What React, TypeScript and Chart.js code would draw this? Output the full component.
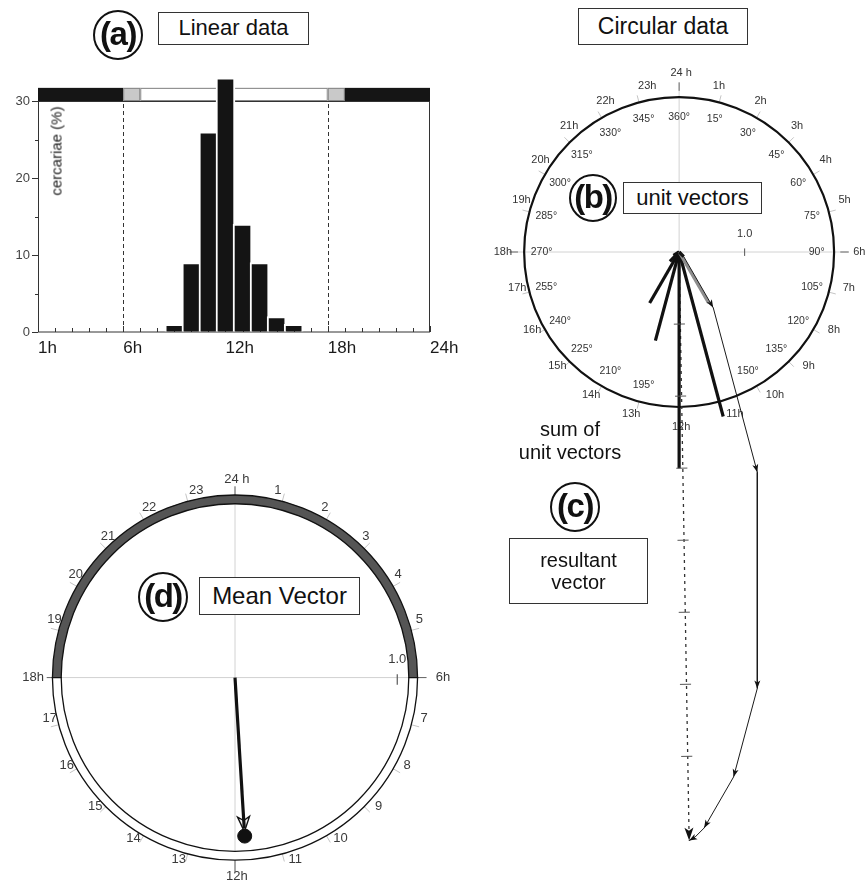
import React, { useEffect, useRef } from "react";
import { Chart, registerables } from "chart.js";

Chart.register(...registerables);

const FONT = "'Liberation Sans', Arial, Helvetica, sans-serif";

// ---------------- data ----------------
// (a) linear histogram: hour of day vs. cercariae emerged (%)
const hours = [9, 10, 11, 12, 13, 14, 15, 16];
const cercariaePct = [1, 9, 26, 33, 14, 9, 2, 1];
const xTickHours = [1, 6, 12, 18, 24];
const xTickLabels = ["1h", "6h", "12h", "18h", "24h"];
const yTickValues = [0, 5, 10, 15, 20, 25, 30];
const yTickLabels = ["0", "", "10", "", "20", "", "30"];
const dawnDuskHours = [6, 18];
// light/dark band on top of (a)
const bandStart = [1, 6, 7, 18, 19];
const bandEnd = [6, 7, 18, 19, 24];
const bandKind = ["dark", "twilight", "light", "twilight", "dark"];

// (b) clock labels
const hourLabelsB = ["24 h", "1h", "2h", "3h", "4h", "5h", "6h", "7h", "8h", "9h", "10h", "11h",
  "12h", "13h", "14h", "15h", "16h", "17h", "18h", "19h", "20h", "21h", "22h", "23h"];
const degreeLabelsB = ["360°", "15°", "30°", "45°", "60°", "75°", "90°", "105°", "120°", "135°", "150°", "",
  "", "195°", "210°", "225°", "240°", "255°", "270°", "285°", "300°", "315°", "330°", "345°"];
// (d) clock labels
const hourLabelsD = ["24 h", "1", "2", "3", "4", "5", "6h", "7", "8", "9", "10", "11",
  "12h", "13", "14", "15", "16", "17", "18h", "19", "20", "21", "22", "23"];
const darkFromHour = 18;
const darkToHour = 6;
// (d) mean vector
const meanAngleDeg = 176.5;
const meanLength = 0.98;
const meanArrowTip = 0.953;

// ---------------- helpers ----------------
function polar(r: number, clockDeg: number) {
  const t = (clockDeg * Math.PI) / 180;
  return { x: r * Math.sin(t), y: r * Math.cos(t) };
}

// clock labels sit slightly pulled towards the top of the dial
function labelAngle(i: number, pull: number) {
  const a = i * 15;
  if (i % 6 === 0) return a;
  return a - pull * Math.sign(Math.sin((a * Math.PI) / 180));
}

function drawArrow(ctx: CanvasRenderingContext2D, fx: number, fy: number, tx: number, ty: number,
  len: number, half: number, fill: string, stroke?: string) {
  const dx = tx - fx, dy = ty - fy;
  const d = Math.hypot(dx, dy) || 1;
  const ux = dx / d, uy = dy / d;
  const bx = tx - ux * len, by = ty - uy * len;
  ctx.beginPath();
  ctx.moveTo(tx, ty);
  ctx.lineTo(bx - uy * half, by + ux * half);
  ctx.lineTo(bx + ux * len * 0.25, by + uy * len * 0.25);
  ctx.lineTo(bx + uy * half, by - ux * half);
  ctx.closePath();
  ctx.fillStyle = fill;
  ctx.fill();
  if (stroke) {
    ctx.strokeStyle = stroke;
    ctx.lineWidth = 1.4;
    ctx.stroke();
  }
}

// ---------------- (a) ----------------
const linearPlugin = {
  id: "linearDeco",
  beforeDatasetsDraw(chart: any) {
    const { ctx, chartArea: ca } = chart;
    const xs = chart.scales.x, ys = chart.scales.y;
    ctx.save();
    // dashed dawn / dusk lines
    ctx.strokeStyle = "#333";
    ctx.lineWidth = 1;
    ctx.setLineDash([4, 3]);
    dawnDuskHours.forEach((h) => {
      const x = Math.round(xs.getPixelForValue(h)) + 0.5;
      ctx.beginPath();
      ctx.moveTo(x, ys.getPixelForValue(0));
      ctx.lineTo(x, ys.getPixelForValue(30));
      ctx.stroke();
    });
    ctx.setLineDash([]);
    // light/dark band
    const yT = ys.getPixelForValue(31.7), yB = ys.getPixelForValue(30);
    const colors: Record<string, string> = { dark: "#151515", twilight: "#c9c9c9", light: "#ffffff" };
    ctx.strokeStyle = "#777";
    ctx.strokeRect(ca.left + 0.5, yT + 0.5, ca.right - ca.left - 1, yB - yT);
    bandStart.forEach((s, i) => {
      const x0 = xs.getPixelForValue(s), x1 = xs.getPixelForValue(bandEnd[i]);
      ctx.fillStyle = colors[bandKind[i]];
      ctx.fillRect(x0, yT, x1 - x0, yB - yT);
      if (bandKind[i] !== "dark") {
        ctx.strokeStyle = "#888";
        ctx.strokeRect(x0 + 0.5, yT + 0.5, x1 - x0 - 1, yB - yT - 1);
      }
    });
    // frame
    ctx.strokeStyle = "#333";
    ctx.lineWidth = 1;
    ctx.strokeRect(ca.left + 0.5, ca.top + 0.5, ca.right - ca.left - 1, ca.bottom - ca.top - 0.5);
    // hour ticks on the x axis (pointing inwards)
    for (let h = 1; h <= 24; h++) {
      const x = Math.round(xs.getPixelForValue(h)) + 0.5;
      const big = xTickHours.includes(h);
      ctx.beginPath();
      ctx.moveTo(x, ca.bottom);
      ctx.lineTo(x, ca.bottom - (big ? 6 : 4));
      ctx.stroke();
    }
    // y ticks (outwards): long at labelled values, short otherwise
    yTickValues.forEach((v, i) => {
      const y = Math.round(ys.getPixelForValue(v)) + 0.5;
      ctx.beginPath();
      ctx.moveTo(ca.left, y);
      ctx.lineTo(ca.left - (yTickLabels[i] ? 6 : 3), y);
      ctx.stroke();
    });
    ctx.restore();
  },
};

function makeA(canvas: HTMLCanvasElement) {
  return new Chart(canvas, {
    type: "bar",
    data: {
      datasets: [
        {
          data: hours.map((h, i) => ({ x: h, y: cercariaePct[i] })),
          backgroundColor: "#141414",
          borderColor: "#ffffff",
          borderWidth: 2,
          borderSkipped: "start",
          barThickness: 19,
          clip: false as any,
        } as any,
      ],
    },
    options: {
      animation: false,
      responsive: false,
      events: [],
      layout: { padding: { top: 101, right: 40, left: 0, bottom: 0 } },
      plugins: { legend: { display: false }, tooltip: { enabled: false } },
      scales: {
        x: {
          type: "linear",
          min: 1,
          max: 24,
          offset: false,
          afterBuildTicks: (s: any) => {
            s.ticks = xTickHours.map((v) => ({ value: v }));
          },
          ticks: {
            callback: (v: any) => xTickLabels[xTickHours.indexOf(Number(v))] ?? "",
            align: "start",
            autoSkip: false,
            maxRotation: 0,
            padding: -2,
            color: "#1a1a1a",
            font: { family: FONT, size: 17 },
          },
          grid: { display: false, offset: false },
          border: { display: false },
          afterFit: (s: any) => {
            s.height = 48;
          },
        } as any,
        y: {
          type: "linear",
          min: 0,
          max: 30,
          afterBuildTicks: (s: any) => {
            s.ticks = yTickValues.map((v) => ({ value: v }));
          },
          ticks: {
            callback: (v: any) => yTickLabels[yTickValues.indexOf(Number(v))] ?? "",
            padding: 2,
            color: "#444",
            font: { family: FONT, size: 13 },
          },
          grid: { drawOnChartArea: false, tickLength: 6, color: "rgba(0,0,0,0)" },
          border: { display: false },
          afterFit: (s: any) => {
            s.width = 38;
          },
        } as any,
      },
    },
    plugins: [linearPlugin],
  });
}

// ---------------- (b) + (c) ----------------
const B_XMIN = -30.4, B_XMAX = 28.53, B_YMAX = 38.47, B_YMIN = -97.7;
const R_B = 23.66;

const vectorEnds = hours.map((h, i) => polar(cercariaePct[i], h * 15));
const chainPts = (() => {
  const pts = [{ x: 0, y: 0 }];
  let sx = 0, sy = 0;
  vectorEnds.forEach((v) => {
    sx += v.x;
    sy += v.y;
    pts.push({ x: sx, y: sy });
  });
  return pts;
})();
const resultantEnd = chainPts[chainPts.length - 1];

const circBPlugin = {
  id: "circB",
  beforeDatasetsDraw(chart: any) {
    const { ctx } = chart;
    const xs = chart.scales.x, ys = chart.scales.y;
    const P = (x: number, y: number): [number, number] => [xs.getPixelForValue(x), ys.getPixelForValue(y)];
    const k = xs.getPixelForValue(1) - xs.getPixelForValue(0);
    const [cx, cy] = P(0, 0);
    ctx.save();
    const seg = (a: [number, number], b: [number, number]) => {
      ctx.beginPath();
      ctx.moveTo(a[0], a[1]);
      ctx.lineTo(b[0], b[1]);
      ctx.stroke();
    };
    // cross axes
    ctx.lineWidth = 1;
    ctx.strokeStyle = "#d2d2d2";
    seg(P(-24.6, 0), P(24.6, 0));
    seg(P(0, 24.6), P(0, -24.6));
    ctx.strokeStyle = "#555";
    [0, 90, 180, 270].forEach((a) => {
      const p0 = polar(24.6, a), p1 = polar(25.9, a);
      seg(P(p0.x, p0.y), P(p1.x, p1.y));
    });
    // hour ticks
    ctx.strokeStyle = "#c4c4c4";
    for (let i = 0; i < 24; i++) {
      if (i % 6 === 0) continue;
      const p0 = polar(R_B, i * 15), p1 = polar(R_B + 1.1, i * 15);
      seg(P(p0.x, p0.y), P(p1.x, p1.y));
    }
    // 1.0 tick
    ctx.strokeStyle = "#555";
    seg(P(10, 0.55), P(10, -0.6));
    // circle
    ctx.beginPath();
    ctx.arc(cx, cy, R_B * k, 0, Math.PI * 2);
    ctx.lineWidth = 2.2;
    ctx.strokeStyle = "#111";
    ctx.stroke();
    // labels
    ctx.textAlign = "center";
    ctx.textBaseline = "middle";
    ctx.fillStyle = "#333";
    ctx.font = `11px ${FONT}`;
    hourLabelsB.forEach((t, i) => {
      let r = 25.9;
      if (i === 0) r = 27.3;
      if (i === 6 || i === 18) r = 27.2;
      if (i === 12) r = 26.7;
      const p = polar(r, labelAngle(i, 2.8));
      const [px, py] = P(p.x + (i % 6 === 0 ? 0.3 : 0.6), p.y);
      ctx.fillText(t, px, py);
    });
    ctx.font = `10.5px ${FONT}`;
    degreeLabelsB.forEach((t, i) => {
      if (!t) return;
      const p = polar(i === 0 ? 20.6 : 21.0, i * 15);
      const [px, py] = P(p.x, p.y);
      ctx.fillText(t, px, py);
    });
    ctx.font = `11px ${FONT}`;
    const [lx, ly] = P(10, 2.75);
    ctx.fillText("1.0", lx, ly);
    ctx.restore();
  },
  afterDatasetsDraw(chart: any) {
    const { ctx } = chart;
    const xs = chart.scales.x, ys = chart.scales.y;
    const P = (x: number, y: number): [number, number] => [xs.getPixelForValue(x), ys.getPixelForValue(y)];
    ctx.save();
    // arrows along the chain
    for (let i = 1; i < chainPts.length; i++) {
      const last = i === chainPts.length - 1;
      if (cercariaePct[i - 1] < 5 && !last) continue;
      const a = P(chainPts[i - 1].x, chainPts[i - 1].y), b = P(chainPts[i].x, chainPts[i].y);
      drawArrow(ctx, a[0], a[1], b[0], b[1], 8, 3, "#111");
    }
    // resultant ticks + arrow
    const L = Math.hypot(resultantEnd.x, resultantEnd.y);
    const ux = resultantEnd.x / L, uy = resultantEnd.y / L;
    ctx.strokeStyle = "#555";
    ctx.lineWidth = 1;
    for (let d = 11; d < L - 4; d += 11) {
      const c = { x: ux * d, y: uy * d };
      const a = P(c.x - uy * 0.7, c.y + ux * 0.7);
      const b = P(c.x + uy * 1.0, c.y - ux * 1.0);
      ctx.beginPath();
      ctx.moveTo(a[0], a[1]);
      ctx.lineTo(b[0], b[1]);
      ctx.stroke();
    }
    const o = P(0, 0), e = P(resultantEnd.x, resultantEnd.y);
    drawArrow(ctx, o[0], o[1], e[0], e[1], 13, 4.5, "#111");
    ctx.restore();
  },
};

function makeB(canvas: HTMLCanvasElement) {
  const vecDatasets = vectorEnds.map((v, i) => ({
    data: [{ x: 0, y: 0 }, v],
    showLine: true,
    borderColor: hours[i] === 10 ? "#8d8d8d" : "#111",
    borderWidth: 3.2,
    pointRadius: 0,
    order: 2,
  }));
  return new Chart(canvas, {
    type: "scatter",
    data: {
      datasets: [
        {
          data: chainPts,
          showLine: true,
          borderColor: "#1a1a1a",
          borderWidth: 1,
          pointRadius: 0,
          order: 1,
        },
        ...vecDatasets,
        {
          data: [{ x: 0, y: 0 }, resultantEnd],
          showLine: true,
          borderColor: "#333",
          borderWidth: 1.3,
          borderDash: [3, 4],
          pointRadius: 0,
          order: 3,
        },
      ] as any,
    },
    options: {
      animation: false,
      responsive: false,
      events: [],
      layout: { padding: 0 },
      plugins: { legend: { display: false }, tooltip: { enabled: false } },
      scales: {
        x: { type: "linear", display: false, min: B_XMIN, max: B_XMAX },
        y: { type: "linear", display: false, min: B_YMIN, max: B_YMAX },
      },
    },
    plugins: [circBPlugin],
  });
}

// ---------------- (d) ----------------
const D_XMIN = -235 / 168, D_XMAX = 235 / 168, D_YMAX = 238 / 168, D_YMIN = -214 / 168;
const RING_OUT = 1.125, RING_IN = 1.071;

const circDPlugin = {
  id: "circD",
  beforeDatasetsDraw(chart: any) {
    const { ctx } = chart;
    const xs = chart.scales.x, ys = chart.scales.y;
    const P = (x: number, y: number): [number, number] => [xs.getPixelForValue(x), ys.getPixelForValue(y)];
    const k = xs.getPixelForValue(1) - xs.getPixelForValue(0);
    const [cx, cy] = P(0, 0);
    ctx.save();
    const seg = (a: [number, number], b: [number, number]) => {
      ctx.beginPath();
      ctx.moveTo(a[0], a[1]);
      ctx.lineTo(b[0], b[1]);
      ctx.stroke();
    };
    // axes
    ctx.lineWidth = 1;
    ctx.strokeStyle = "#d2d2d2";
    seg(P(-1.16, 0), P(1.18, 0));
    seg(P(0, 1.18), P(0, -1.2));
    ctx.strokeStyle = "#666";
    seg(P(-1.16, 0), P(-RING_OUT, 0));
    seg(P(RING_OUT, 0), P(1.18, 0));
    seg(P(0, 1.18), P(0, RING_OUT));
    seg(P(0, -RING_OUT), P(0, -1.2));
    // hour ticks
    ctx.strokeStyle = "#c4c4c4";
    for (let i = 0; i < 24; i++) {
      if (i % 6 === 0) continue;
      const p0 = polar(RING_OUT, i * 15), p1 = polar(RING_OUT + 0.05, i * 15);
      seg(P(p0.x, p0.y), P(p1.x, p1.y));
    }
    // ring: dark (night) and light (day) halves
    const a0 = ((darkFromHour * 15 - 90) * Math.PI) / 180;
    const span = (((darkToHour - darkFromHour + 24) % 24) * 15 * Math.PI) / 180;
    const a1 = a0 + span;
    const a2 = a0 + Math.PI * 2;
    ctx.lineWidth = 1.3;
    ctx.strokeStyle = "#111";
    ctx.beginPath();
    ctx.arc(cx, cy, RING_OUT * k, a0, a1, false);
    ctx.arc(cx, cy, RING_IN * k, a1, a0, true);
    ctx.closePath();
    ctx.fillStyle = "#555";
    ctx.fill();
    ctx.stroke();
    ctx.beginPath();
    ctx.arc(cx, cy, RING_OUT * k, a1, a2, false);
    ctx.arc(cx, cy, RING_IN * k, a2, a1, true);
    ctx.closePath();
    ctx.fillStyle = "#fff";
    ctx.fill();
    ctx.stroke();
    // labels
    ctx.textAlign = "center";
    ctx.textBaseline = "middle";
    ctx.fillStyle = "#3a3a3a";
    ctx.font = `13px ${FONT}`;
    hourLabelsD.forEach((t, i) => {
      let r = 1.18;
      if (i === 0) r = 1.225;
      if (i === 12) r = 1.23;
      if (i === 6) r = 1.27;
      if (i === 18) r = 1.256;
      const p = polar(r, labelAngle(i, 2.7));
      const [px, py] = P(p.x + 0.012, p.y);
      ctx.fillText(t, px, py);
    });
    // 1.0 tick
    ctx.strokeStyle = "#666";
    seg(P(1.0, 0.02), P(1.0, -0.045));
    const [lx, ly] = P(1.0, 0.113);
    ctx.fillText("1.0", lx, ly);
    // arrow head of mean vector
    const tip = polar(meanArrowTip, meanAngleDeg);
    const [tx, ty] = P(tip.x, tip.y);
    drawArrow(ctx, cx, cy, tx, ty, 15, 6, "#f4f4f4", "#111");
    ctx.restore();
  },
};

function makeD(canvas: HTMLCanvasElement) {
  const end = polar(meanLength, meanAngleDeg);
  return new Chart(canvas, {
    type: "scatter",
    data: {
      datasets: [
        {
          data: [end],
          pointRadius: 7,
          pointBackgroundColor: "#111",
          pointBorderColor: "#111",
          showLine: false,
          order: 1,
        },
        {
          data: [{ x: 0, y: 0 }, polar(meanArrowTip - 0.02, meanAngleDeg)],
          showLine: true,
          borderColor: "#111",
          borderWidth: 3.2,
          pointRadius: 0,
          order: 2,
        },
      ] as any,
    },
    options: {
      animation: false,
      responsive: false,
      events: [],
      layout: { padding: 0 },
      plugins: { legend: { display: false }, tooltip: { enabled: false } },
      scales: {
        x: { type: "linear", display: false, min: D_XMIN, max: D_XMAX },
        y: { type: "linear", display: false, min: D_YMIN, max: D_YMAX },
      },
    },
    plugins: [circDPlugin],
  });
}

// ---------------- overlay widgets ----------------
function Circled({ cx, cy, r, text }: { cx: number; cy: number; r: number; text: string }) {
  return (
    <div
      style={{
        position: "absolute",
        left: cx - r,
        top: cy - r,
        width: 2 * r,
        height: 2 * r,
        border: "2px solid #111",
        borderRadius: "50%",
        boxSizing: "border-box",
        background: "#fff",
        display: "flex",
        alignItems: "center",
        justifyContent: "center",
        font: `bold 33px ${FONT}`,
        letterSpacing: "-1.5px",
        lineHeight: 1,
        color: "#111",
        paddingBottom: 3,
      }}
    >
      {text}
    </div>
  );
}

function Box({ left, top, width, height, size, children }: any) {
  return (
    <div
      style={{
        position: "absolute",
        left,
        top,
        width,
        height,
        border: "1.5px solid #333",
        boxSizing: "border-box",
        background: "#fff",
        display: "flex",
        alignItems: "center",
        justifyContent: "center",
        textAlign: "center",
        font: `${size}px ${FONT}`,
        lineHeight: 1.1,
        color: "#111",
      }}
    >
      {children}
    </div>
  );
}

export default function App() {
  const aRef = useRef<HTMLCanvasElement>(null);
  const bRef = useRef<HTMLCanvasElement>(null);
  const dRef = useRef<HTMLCanvasElement>(null);

  useEffect(() => {
    const charts = [makeA(aRef.current!), makeB(bRef.current!), makeD(dRef.current!)];
    return () => charts.forEach((c) => c.destroy());
  }, []);

  return (
    <div
      style={{
        position: "absolute",
        left: 0,
        top: 0,
        width: 866,
        height: 892,
        background: "#fff",
        overflow: "hidden",
        fontFamily: FONT,
      }}
    >
      <canvas ref={aRef} width={470} height={380} style={{ position: "absolute", left: 0, top: 0 }} />
      <canvas ref={dRef} width={470} height={452} style={{ position: "absolute", left: 0, top: 440 }} />
      <canvas ref={bRef} width={386} height={892} style={{ position: "absolute", left: 480, top: 0 }} />

      <Circled cx={118} cy={35} r={25} text="(a)" />
      <Box left={158} top={12} width={151} height={33} size={22}>Linear data</Box>
      <div
        style={{
          position: "absolute",
          left: 56,
          top: 151,
          transform: "translate(-50%, -50%) rotate(-90deg)",
          font: `15px ${FONT}`,
          color: "#222",
          whiteSpace: "nowrap",
        }}
      >
        cercariae (%)
      </div>

      <Box left={578} top={8} width={170} height={37} size={23}>Circular data</Box>
      <Circled cx={593} cy={198} r={24} text="(b)" />
      <Box left={623} top={182} width={139} height={32} size={22}>unit vectors</Box>

      <div
        style={{
          position: "absolute",
          left: 500,
          top: 418,
          width: 140,
          textAlign: "center",
          font: `20px ${FONT}`,
          lineHeight: "23px",
          color: "#111",
        }}
      >
        sum of
        <br />
        unit vectors
      </div>
      <Circled cx={575} cy={507} r={25} text="(c)" />
      <Box left={509} top={538} width={139} height={66} size={20}>
        resultant
        <br />
        vector
      </Box>

      <Circled cx={163} cy={597} r={25} text="(d)" />
      <Box left={199} top={577} width={161} height={38} size={24}>Mean Vector</Box>
    </div>
  );
}
